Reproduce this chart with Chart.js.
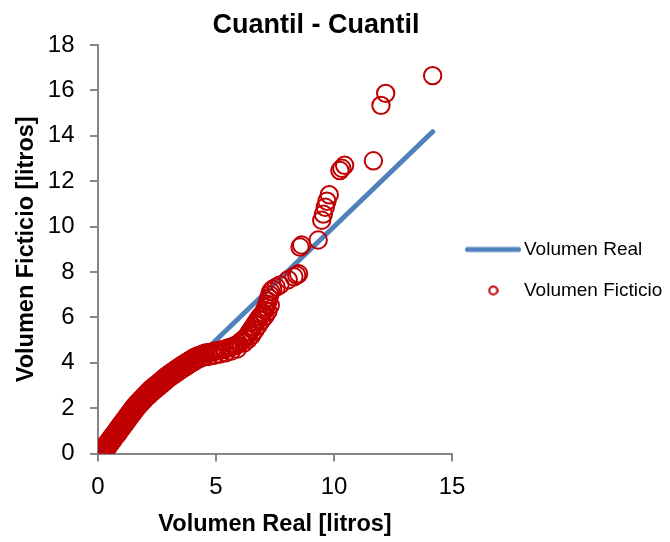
<!DOCTYPE html>
<html>
<head>
<meta charset="utf-8">
<script src="https://cdn.jsdelivr.net/npm/chart.js@4.4.1/dist/chart.umd.min.js"></script>
<style>
  html, body { margin: 0; padding: 0; background: #ffffff; }
  #wrap { width: 670px; height: 542px; }
</style>
</head>
<body>
<div id="wrap"><canvas id="qq" width="670" height="542"></canvas></div>
<script>
// Quantile-quantile comparison: real volume vs. fictitious volume (litres)

// Reference line (y = x)
const realX = [0, 14.18];
const realY = [0, 14.18];

// Quantile pairs: real volume quantiles (x) against fictitious volume quantiles (y)
const ficticioX = [
  0.12, 0.15, 0.18, 0.22, 0.26, 0.30, 0.35, 0.40, 0.45, 0.50, 0.56, 0.62, 0.68, 0.74, 0.79,
  0.84, 0.89, 0.94, 0.99, 1.04, 1.09, 1.14, 1.19, 1.24, 1.29, 1.34, 1.39, 1.44, 1.49, 1.54,
  1.60, 1.66, 1.72, 1.78, 1.84, 1.90, 1.96, 2.02, 2.08, 2.14, 2.20,
  2.27, 2.34, 2.41, 2.48, 2.55, 2.62, 2.69, 2.76, 2.83, 2.89,
  2.96, 3.04, 3.11, 3.18, 3.26, 3.33, 3.40, 3.48, 3.55,
  3.63, 3.71, 3.78, 3.86, 3.94, 4.01, 4.09,
  4.18, 4.27, 4.36, 4.45, 4.55,
  4.67, 4.79, 4.91, 5.02, 5.14, 5.25,
  5.38, 5.50, 5.63, 5.75, 5.88,
  5.96, 6.05, 6.13, 6.22, 6.30,
  6.37, 6.44, 6.51, 6.58,
  6.65, 6.72, 6.79, 6.86,
  6.93, 7.00, 7.06, 7.11, 7.16, 7.20, 7.24, 7.28, 7.32, 7.40, 7.55, 7.71, 8.06, 8.30, 8.42, 8.50,
  8.56, 8.63, 9.33, 9.48, 9.55, 9.63, 9.70, 9.80, 10.25, 10.33, 10.45, 11.67, 11.99, 12.19, 14.18,
  // second, slightly lower trace through the dense part
  0.24, 0.30, 0.38, 0.47, 0.57, 0.68, 0.80, 0.91, 1.01, 1.11, 1.21, 1.31, 1.41, 1.51, 1.61,
  1.72, 1.84, 1.96, 2.08,
  2.16, 2.28, 2.42, 2.56, 2.70, 2.84, 2.97, 3.12, 3.26, 3.41, 3.56, 3.71, 3.86, 4.02, 4.17,
  4.35, 4.53,
  4.69, 4.93, 5.16, 5.40, 5.65, 5.90,
  6.19, 6.36, 6.51, 6.65, 6.79, 6.93, 7.07, 7.20, 7.30
];
const ficticioY = [
  0.04, 0.09, 0.15, 0.21, 0.27, 0.33, 0.40, 0.48, 0.55, 0.62, 0.70, 0.79, 0.87, 0.95, 1.02,
  1.10, 1.17, 1.24, 1.31, 1.38, 1.45, 1.52, 1.59, 1.66, 1.73, 1.80, 1.87, 1.94, 2.01, 2.08,
  2.15, 2.22, 2.28, 2.35, 2.42, 2.48, 2.55, 2.61, 2.68, 2.74, 2.81,
  2.87, 2.93, 2.99, 3.05, 3.11, 3.17, 3.23, 3.29, 3.36, 3.41,
  3.46, 3.52, 3.57, 3.62, 3.68, 3.73, 3.78, 3.84, 3.89,
  3.94, 3.99, 4.04, 4.09, 4.14, 4.19, 4.24,
  4.28, 4.32, 4.35, 4.39, 4.43,
  4.45, 4.47, 4.50, 4.52, 4.55, 4.57,
  4.61, 4.65, 4.69, 4.74, 4.78,
  4.85, 4.93, 5.00, 5.08, 5.15,
  5.26, 5.37, 5.48, 5.59,
  5.70, 5.81, 5.92, 6.03,
  6.10, 6.20, 6.32, 6.45, 6.58, 6.72, 6.86, 7.00, 7.14, 7.24, 7.33, 7.43, 7.66, 7.79, 7.86, 7.92,
  9.10, 9.19, 9.41, 10.28, 10.55, 10.85, 11.12, 11.40, 12.47, 12.57, 12.70, 12.90, 15.34, 15.87, 16.65,
  0.02, 0.10, 0.22, 0.35, 0.50, 0.65, 0.82, 0.97, 1.12, 1.26, 1.40, 1.54, 1.68, 1.82, 1.96,
  2.10, 2.23, 2.37, 2.50,
  2.56, 2.69, 2.81, 2.93, 3.05, 3.17, 3.29, 3.40, 3.50, 3.61, 3.72, 3.82, 3.92, 4.02, 4.12,
  4.20, 4.27,
  4.28, 4.33, 4.38, 4.44, 4.52, 4.61,
  4.88, 5.03, 5.21, 5.43, 5.65, 5.87, 6.05, 6.27, 6.53
];

// Axis ticks
const xTickValues = [0, 5, 10, 15];
const yTickValues = [0, 2, 4, 6, 8, 10, 12, 14, 16, 18];

const seriesNames = ['Volumen Real', 'Volumen Ficticio'];
const chartTitle = 'Cuantil - Cuantil';
const xAxisTitle = 'Volumen Real [litros]';
const yAxisTitle = 'Volumen Ficticio [litros]';

const AXIS_GRAY = '#868686';
const LINE_BLUE = '#4F81BD';
const MARK_RED = '#C00000';
const BASE_FONT = "'Liberation Sans', Arial, sans-serif";

const toPoints = (xs, ys) => xs.map((x, i) => ({ x: x, y: ys[i] }));

// Legend markers: a thick rounded line sample and a small hollow circle
function makeLegendLine() {
  const c = document.createElement('canvas');
  c.width = 61; c.height = 8;
  const g = c.getContext('2d');
  g.strokeStyle = LINE_BLUE; g.lineWidth = 5; g.lineCap = 'round';
  g.beginPath(); g.moveTo(7.5, 4); g.lineTo(58.5, 4); g.stroke();
  return c;
}
function makeLegendCircle() {
  const c = document.createElement('canvas');
  c.width = 16; c.height = 16;
  const g = c.getContext('2d');
  g.strokeStyle = MARK_RED; g.lineWidth = 2;
  g.beginPath(); g.arc(10.8, 8, 4, 0, Math.PI * 2); g.stroke();
  return c;
}
const legendMarkers = [makeLegendLine(), makeLegendCircle()];

// Fixed box sizes so the plot area lands where it should
const LEGEND_WIDTH = 218;
const Y_AXIS_WIDTH = 98;
const X_AXIS_HEIGHT = 88.4;

const layoutTweaks = {
  id: 'layoutTweaks',
  beforeLayout(chart) {
    const lg = chart.legend;
    if (lg && !lg._fixedWidth) {
      const origFit = lg.fit;
      lg.fit = function () {
        origFit.call(this);
        if (!this.isHorizontal()) this.width = LEGEND_WIDTH;
      };
      lg._fixedWidth = true;
    }
  },
  afterLayout(chart) {
    const lg = chart.legend;
    if (lg) {
      const dx = 444.5 - lg.left;
      lg.left += dx; lg.right += dx;
      const h = lg.bottom - lg.top;
      lg.top = 218; lg.bottom = 218 + h;
    }
    const t = chart.titleBlock;
    if (t) { t.left = 0; t.right = 632; }
  }
};

new Chart(document.getElementById('qq'), {
  type: 'scatter',
  data: {
    datasets: [
      {
        label: seriesNames[0],
        data: toPoints(realX, realY),
        showLine: true,
        borderColor: LINE_BLUE,
        backgroundColor: LINE_BLUE,
        borderWidth: 5,
        borderCapStyle: 'round',
        pointRadius: 0,
        pointHoverRadius: 0,
        order: 1
      },
      {
        label: seriesNames[1],
        data: toPoints(ficticioX, ficticioY),
        showLine: false,
        borderColor: MARK_RED,
        backgroundColor: 'rgba(0,0,0,0)',
        borderWidth: 2,
        pointRadius: 8.7,
        pointHoverRadius: 8.7,
        pointStyle: 'circle',
        order: 0
      }
    ]
  },
  options: {
    responsive: false,
    animation: false,
    devicePixelRatio: 1,
    layout: { padding: { left: 0, right: 0, top: 0, bottom: 0 } },
    plugins: {
      tooltip: { enabled: false },
      title: {
        display: true,
        text: chartTitle,
        color: '#000000',
        font: { family: BASE_FONT, size: 27, weight: 'bold' },
        padding: { top: 9, bottom: 3.6 }
      },
      legend: {
        display: true,
        position: 'right',
        align: 'start',
        labels: {
          usePointStyle: true,
          pointStyleWidth: 48,
          boxHeight: 6,
          padding: 22,
          color: '#000000',
          font: { family: BASE_FONT, size: 19 },
          generateLabels(chart) {
            const items = Chart.defaults.plugins.legend.labels.generateLabels(chart);
            items.forEach(it => { it.pointStyle = legendMarkers[it.datasetIndex]; });
            return items;
          },
          sort: (a, b) => a.datasetIndex - b.datasetIndex
        }
      }
    },
    scales: {
      x: {
        type: 'linear',
        min: xTickValues[0],
        max: xTickValues[xTickValues.length - 1],
        afterBuildTicks: (s) => { s.ticks = xTickValues.map(v => ({ value: v })); },
        afterFit: (s) => { s.height = X_AXIS_HEIGHT; },
        grid: { display: true, drawOnChartArea: false, drawTicks: true, tickLength: 8, color: AXIS_GRAY, lineWidth: 2 },
        border: { display: true, color: AXIS_GRAY, width: 2 },
        ticks: { color: '#000000', font: { family: BASE_FONT, size: 24 }, padding: 11, maxRotation: 0 },
        title: {
          display: true,
          text: xAxisTitle,
          color: '#000000',
          font: { family: BASE_FONT, size: 23.5, weight: 'bold' },
          padding: { top: 0, bottom: 3 }
        }
      },
      y: {
        type: 'linear',
        min: yTickValues[0],
        max: yTickValues[yTickValues.length - 1],
        afterBuildTicks: (s) => { s.ticks = yTickValues.map(v => ({ value: v })); },
        afterFit: (s) => { s.width = Y_AXIS_WIDTH; },
        grid: { display: true, drawOnChartArea: false, drawTicks: true, tickLength: 8, color: AXIS_GRAY, lineWidth: 2 },
        border: { display: true, color: AXIS_GRAY, width: 2 },
        ticks: { color: '#000000', font: { family: BASE_FONT, size: 24 }, padding: 15.5 },
        title: {
          display: true,
          text: yAxisTitle,
          color: '#000000',
          font: { family: BASE_FONT, size: 23.5, weight: 'bold' },
          padding: { top: 12, bottom: 0 }
        }
      }
    }
  },
  plugins: [layoutTweaks]
});
</script>
</body>
</html>
